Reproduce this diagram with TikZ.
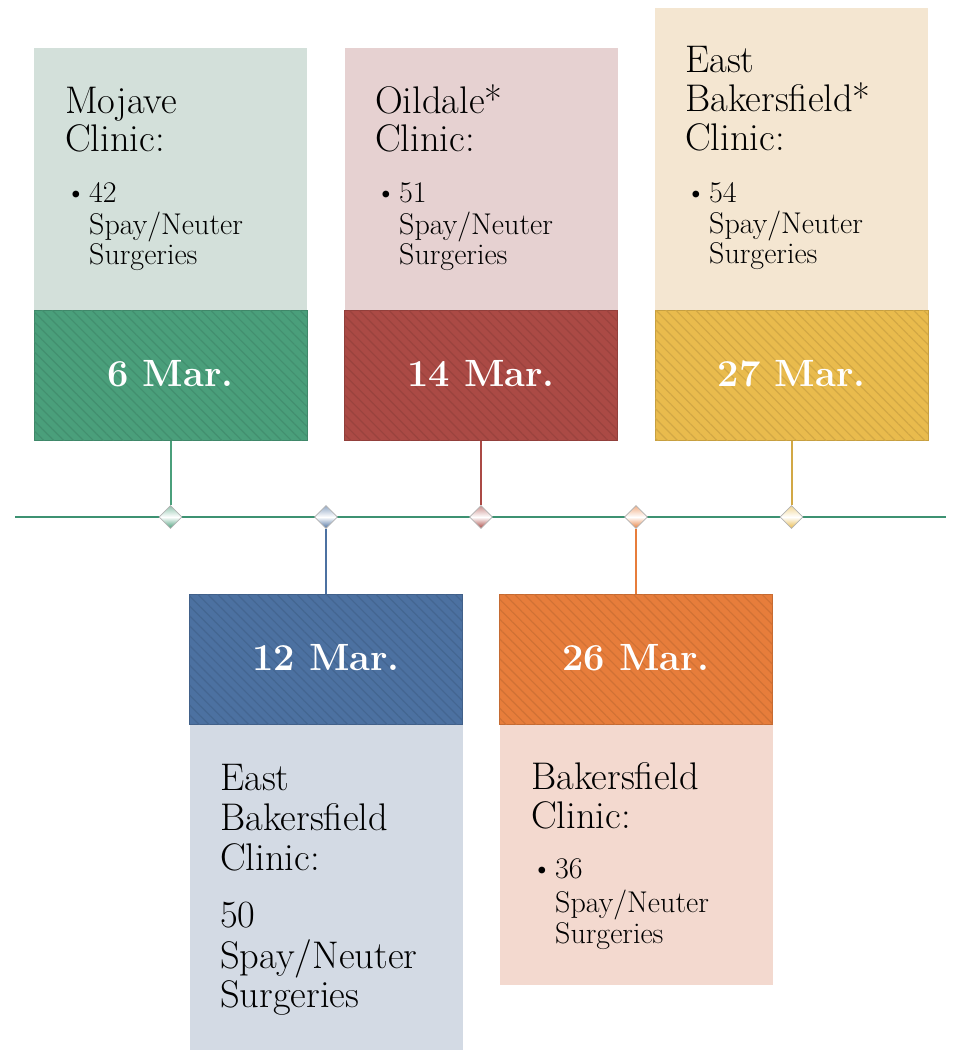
\documentclass[tikz,border=0pt]{standalone}
\usetikzlibrary{shapes.geometric,patterns.meta}
\definecolor{gD}{HTML}{4A9F7B}\definecolor{gL}{HTML}{D3E0DA}
\definecolor{rD}{HTML}{AB4A45}\definecolor{rL}{HTML}{E6D1D1}
\definecolor{yD}{HTML}{E9BB4D}\definecolor{yL}{HTML}{F4E6D1}
\definecolor{bD}{HTML}{4C71A1}\definecolor{bL}{HTML}{D3DAE4}
\definecolor{oD}{HTML}{E77D3B}\definecolor{oL}{HTML}{F3D9CF}
\definecolor{tl}{HTML}{3D9272}
\tikzset{
  datebox/.style={rectangle, minimum width=273pt, minimum height=130pt, inner sep=0pt,
    text=white, font=\bfseries\fontsize{38}{40}\selectfont, fill=#1, draw=#1!85!black, line width=1pt,
    postaction={pattern={Lines[angle=-45,distance=7pt,line width=1.2pt]}, pattern color=#1!90!black}},
  infobox/.style={rectangle, minimum width=273pt, inner sep=0pt, fill=#1, draw=none},
  hd/.style={anchor=base west, inner sep=0pt, font=\fontsize{38.5}{40}\selectfont},
  bl/.style={anchor=base west, inner sep=0pt, font=\fontsize{30}{32}\selectfont},
  knot/.style={diamond, minimum size=23pt, inner sep=0pt, top color=#1!60, bottom color=#1, middle color=white, draw=gray!60, line width=.6pt},
  stem/.style={draw=#1, line width=2pt},
}
\begin{document}
\begin{tikzpicture}[x=1pt,y=-1pt]
\useasboundingbox (0,0) rectangle (953,1050);
% timeline
\coordinate (tl0) at (15,517);
\coordinate (tl1) at (946,517);
\draw[tl, line width=1.8pt] (tl0) -- (tl1);
% info boxes
\node[infobox=gL, minimum height=262pt, anchor=north] (i1) at (170.5,48) {};
\node[infobox=rL, minimum height=262pt, anchor=north] (i3) at (481,48) {};
\node[infobox=yL, minimum height=302pt, anchor=north] (i5) at (791.5,8) {};
\node[infobox=bL, minimum height=325pt, anchor=north] (i2) at (326,725) {};
\node[infobox=oL, minimum height=260pt, anchor=north] (i4) at (636,725) {};
% date boxes
\node[datebox=gD] (d1) at (170.5,375) {\raisebox{4pt}{6 Mar.}};
\node[datebox=rD] (d3) at (481,375) {\raisebox{4pt}{14 Mar.}};
\node[datebox=yD] (d5) at (791.5,375) {\raisebox{4pt}{27 Mar.}};
\node[datebox=bD] (d2) at (326,659.5) {\raisebox{4pt}{12 Mar.}};
\node[datebox=oD] (d4) at (636,659.5) {\raisebox{4pt}{26 Mar.}};
% knots
\node[knot=gD] (k1) at (170.5,517) {};
\node[knot=bD] (k2) at (326,517) {};
\node[knot=rD] (k3) at (481,517) {};
\node[knot=oD] (k4) at (636,517) {};
\node[knot=yD] (k5) at (791.5,517) {};
% stems
\draw[stem=gD] (d1.south) -- (k1.north);
\draw[stem=rD] (d3.south) -- (k3.north);
\draw[stem=yD!90!black] (d5.south) -- (k5.north);
\draw[stem=bD] (k2.south) -- (d2.north);
\draw[stem=oD] (k4.south) -- (d4.north);
% Mojave
\node[hd] (m1) at (65,113) {Mojave};
\node[hd] (m2) at (65,151) {Clinic:};
\node[bl] (mb) at (65,202) {\textbullet};
\node[bl] (m3) at (89,202) {42};
\node[bl] (m4) at (89,234) {Spay/Neuter};
\node[bl] (m5) at (89,264) {Surgeries};
% Oildale
\node[hd] (o1) at (375,113) {Oildale*};
\node[hd] (o2) at (375,151) {Clinic:};
\node[bl] (ob) at (375,202) {\textbullet};
\node[bl] (o3) at (399,202) {51};
\node[bl] (o4) at (399,234) {Spay/Neuter};
\node[bl] (o5) at (399,264) {Surgeries};
% East Bakersfield*
\node[hd] (e1) at (685,72) {East};
\node[hd] (e2) at (685,111) {Bakersfield*};
\node[hd] (e3) at (685,150) {Clinic:};
\node[bl] (eb) at (685,202) {\textbullet};
\node[bl] (e4) at (709,202) {54};
\node[bl] (e5) at (709,233) {Spay/Neuter};
\node[bl] (e6) at (709,263) {Surgeries};
% East Bakersfield (blue)
\node[hd] (f1) at (220,790) {East};
\node[hd] (f2) at (220,830) {Bakersfield};
\node[hd] (f3) at (220,870) {Clinic:};
\node[hd] (f4) at (220,927) {50};
\node[hd] (f5) at (220,968) {Spay/Neuter};
\node[hd] (f6) at (220,1007) {Surgeries};
% Bakersfield
\node[hd] (b1) at (531,789) {Bakersfield};
\node[hd] (b2) at (531,828) {Clinic:};
\node[bl] (bb) at (531,878) {\textbullet};
\node[bl] (b3) at (555,878) {36};
\node[bl] (b4) at (555,912) {Spay/Neuter};
\node[bl] (b5) at (555,943) {Surgeries};
\end{tikzpicture}
\end{document}
